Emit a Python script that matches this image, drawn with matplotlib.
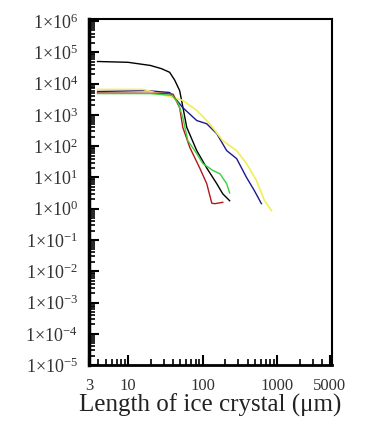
import matplotlib.pyplot as plt
from matplotlib.ticker import LogLocator, NullFormatter, FixedLocator

plt.rcParams['font.family'] = ['Liberation Serif', 'DejaVu Serif']
plt.rcParams['mathtext.fontset'] = 'stix'

# curves (length in um, concentration)
black_x = [3.9, 10, 20, 28, 36, 42, 49, 52, 61, 83, 113, 154, 185, 229]
black_y = [5.1e4, 4.8e4, 3.8e4, 3.0e4, 2.3e4, 1.3e4, 6.0e3, 2.9e3, 4.0e2, 7.2e1, 2.0e1, 6.3e0, 3.0e0, 1.8e0]

yellow_x = [3.9, 16, 40, 54, 83, 124, 185, 284, 385, 525, 670, 833]
yellow_y = [6.5e3, 6.5e3, 3.6e3, 2.9e3, 1.4e3, 5.2e2, 1.5e2, 7.2e1, 2.8e1, 7.9e0, 1.8e0, 8.7e-1]

blue_x = [3.9, 17, 36, 45, 54, 83, 113, 154, 209, 284, 385, 490, 610]
blue_y = [5.6e3, 6.0e3, 5.2e3, 2.9e3, 1.7e3, 6.6e2, 5.2e2, 2.5e2, 7.2e1, 4.0e1, 1.0e1, 3.8e0, 1.45e0]

red_x = [3.9, 20, 30, 40, 49, 54, 67, 91, 113, 132, 145, 185]
red_y = [5.0e3, 4.9e3, 4.9e3, 4.6e3, 1.7e3, 4.0e2, 9.1e1, 2.0e1, 6.3e0, 1.5e0, 1.45e0, 1.6e0]

green_x = [3.9, 20, 39, 47, 54, 63, 83, 100, 135, 170, 209, 229]
green_y = [4.8e3, 4.8e3, 4.2e3, 2.3e3, 8.3e2, 1.5e2, 5.8e1, 2.8e1, 1.7e1, 1.3e1, 6.3e0, 3.2e0]

xticks = [3, 10, 100, 1000, 5000]
xticklabels = ['3', '10', '100', '1000', '5000']
ydecades = list(range(-5, 7))

fig = plt.figure(figsize=(3.65, 4.26), dpi=100)
ax = fig.add_axes([0.244, 0.143, 0.666, 0.812])

ax.plot(black_x, black_y, color='black', lw=1.0)
ax.plot(blue_x, blue_y, color='#1a1a8c', lw=1.0)
ax.plot(yellow_x, yellow_y, color='#f2ee5a', lw=1.2)
ax.plot(red_x, red_y, color='#b01818', lw=1.0)
ax.plot(green_x, green_y, color='#3ccf3c', lw=1.0)

ax.set_xscale('log')
ax.set_yscale('log')
ax.set_xlim(3, 5400)
ax.set_ylim(1e-5, 1.15e6)

ax.xaxis.set_major_locator(FixedLocator(xticks))
ax.set_xticklabels(xticklabels)
ax.xaxis.set_minor_locator(LogLocator(base=10, subs=range(2, 10), numticks=20))
ax.xaxis.set_minor_formatter(NullFormatter())

ax.yaxis.set_major_locator(FixedLocator([10.0 ** d for d in ydecades]))
ax.set_yticklabels([r'$\mathregular{1{\times}10^{%d}}$' % d for d in ydecades])
ax.yaxis.set_minor_locator(LogLocator(base=10, subs=range(2, 10), numticks=20))
ax.yaxis.set_minor_formatter(NullFormatter())

ax.tick_params(which='major', direction='in', length=7, width=1.5, top=False, right=False)
ax.tick_params(which='minor', direction='in', length=4, width=1.2, top=False, right=False)
ax.tick_params(axis='y', which='major', labelsize=13, pad=8, labelcolor='#333333')
ax.tick_params(axis='x', which='major', labelsize=12, pad=9, labelcolor='#333333')

ax.spines['left'].set_linewidth(2.5)
ax.spines['bottom'].set_linewidth(2.0)
ax.spines['top'].set_linewidth(1.5)
ax.spines['right'].set_linewidth(1.5)

ax.set_xlabel('Length of ice crystal (\u03bcm)', fontsize=18, labelpad=0, color='#222222')

fig.savefig('out.png', dpi=100)
